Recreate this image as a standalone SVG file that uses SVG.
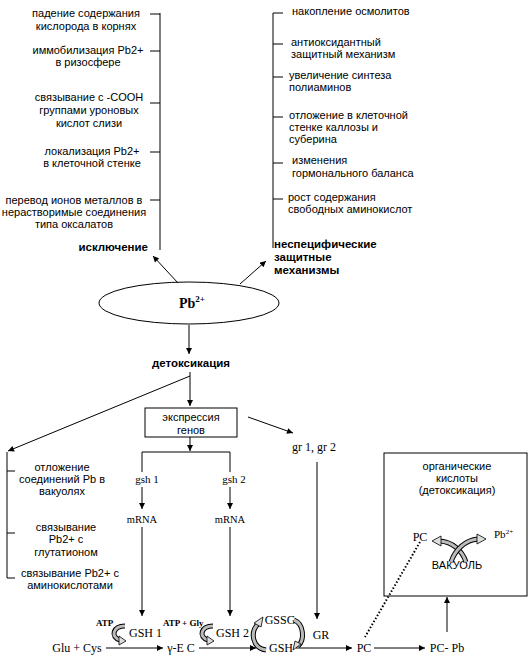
<svg xmlns="http://www.w3.org/2000/svg" width="529" height="661" viewBox="0 0 529 661">
<style>
.s{font-family:"Liberation Sans",Arial,sans-serif;font-size:11px;fill:#000}
.c{text-anchor:middle}
.b{font-weight:bold;font-size:11.5px}
.r{font-family:"Liberation Serif","Times New Roman",serif;fill:#000}
.ln{stroke:#000;stroke-width:1;fill:none}
.bo{stroke:#000;stroke-width:5;fill:none}
.bi{stroke:#bbb;stroke-width:3;fill:none}
.hd{fill:#ddd;stroke:#000;stroke-width:0.8}
</style>
<defs>
<marker id="ah" viewBox="0 0 10 10" refX="10" refY="5" markerWidth="7" markerHeight="6" markerUnits="userSpaceOnUse" orient="auto"><path d="M0,0 L10,5 L0,10 z" fill="#000"/></marker>
</defs>
<rect width="529" height="661" fill="#fff"/>

<g id="exclusion">
<text class="s c" x="86" y="17">падение содержания</text>
<text class="s c" x="86" y="30">кислорода в корнях</text>
<text class="s c" x="88" y="54">иммобилизация Pb2+</text>
<text class="s c" x="88" y="66">в ризосфере</text>
<text class="s c" x="89" y="101">связывание с -COOH</text>
<text class="s c" x="89" y="114">группами уроновых</text>
<text class="s c" x="89" y="127">кислот слизи</text>
<text class="s c" x="92" y="155">локализация Pb2+</text>
<text class="s c" x="92" y="167">в клеточной стенке</text>
<text class="s c" x="74" y="204">перевод ионов металлов в</text>
<text class="s c" x="74" y="216">нерастворимые соединения</text>
<text class="s c" x="74" y="228">типа оксалатов</text>
<text class="s b" x="148" y="251" text-anchor="end">исключение</text>
<path class="ln" d="M160,13 V250 M150,14 H160 M150,51 H160 M150,103 H160 M150,152 H160 M150,200 H160"/>
</g>

<g id="nonspecific">
<text class="s" x="292" y="15">накопление осмолитов</text>
<text class="s" x="291" y="46">антиоксидантный</text>
<text class="s" x="291" y="58">защитный механизм</text>
<text class="s" x="289" y="79">увеличение синтеза</text>
<text class="s" x="289" y="91">полиаминов</text>
<text class="s" x="289" y="119">отложение в клеточной</text>
<text class="s" x="289" y="131">стенке каллозы и</text>
<text class="s" x="289" y="143">суберина</text>
<text class="s" x="292" y="164">изменения</text>
<text class="s" x="292" y="177">гормонального баланса</text>
<text class="s" x="288" y="201">рост содержания</text>
<text class="s" x="288" y="213">свободных аминокислот</text>
<text class="s b" x="274" y="248">неспецифические</text>
<text class="s b" x="274" y="261">защитные</text>
<text class="s b" x="274" y="274">механизмы</text>
<path class="ln" d="M273,13 V248 M273,13 H283 M273,44 H283 M273,77 H283 M273,117 H283 M273,163 H283 M273,199 H283"/>
</g>

<g id="pb">
<ellipse cx="189" cy="303" rx="90" ry="21" fill="#fff" stroke="#000" stroke-width="1"/>
<text class="r" x="192" y="308" text-anchor="middle" font-weight="bold" font-size="14">Pb<tspan font-size="9" dy="-6">2+</tspan></text>
</g>

<g id="detox">
<text class="s b c" x="191" y="367">детоксикация</text>
</g>

<g id="expr">
<rect x="145" y="408" width="92" height="29" fill="#fff" stroke="#000"/>
<text class="s c" x="191" y="421">экспрессия</text>
<text class="s c" x="191" y="434">генов</text>
</g>

<g id="detox-left">
<text class="s c" x="62" y="471">отложение</text>
<text class="s c" x="62" y="483">соединений Pb в</text>
<text class="s c" x="62" y="495">вакуолях</text>
<text class="s c" x="66" y="531">связывание</text>
<text class="s c" x="66" y="543">Pb2+ с</text>
<text class="s c" x="66" y="556">глутатионом</text>
<text class="s c" x="70" y="577">связывание Pb2+ с</text>
<text class="s c" x="70" y="589">аминокислотами</text>
<path class="ln" d="M7,452 V578 M7,471 H15 M7,533 H15 M7,578 H15"/>
</g>

<g id="genes">
<text class="r c" x="147" y="483" font-size="11">gsh 1</text>
<text class="r c" x="234" y="483" font-size="11">gsh 2</text>
<text class="r c" x="142" y="523" font-size="10.5">mRNA</text>
<text class="r c" x="230" y="523" font-size="10.5">mRNA</text>
<text class="r c" x="314" y="451" font-size="12">gr 1, gr 2</text>
</g>

<g id="vacuole">
<rect x="384" y="453" width="143" height="143" fill="#fff" stroke="#000"/>
<text class="s c" x="457" y="470">органические</text>
<text class="s c" x="457" y="482">кислоты</text>
<text class="s c" x="457" y="494">(детоксикация)</text>
<text class="r c" x="420" y="541" font-size="12">PC</text>
<text class="r" x="494" y="538" font-size="11">Pb<tspan font-size="7" dy="-4">2+</tspan></text>
<text class="s c" x="457" y="569">ВАКУОЛЬ</text>
<path class="bo" d="M466,562 C462,550 452,542 440,541"/>
<path class="bi" d="M466,562 C462,550 452,542 440,541"/>
<polygon class="hd" points="441,536 432,541 441,546"/>
<path class="bo" d="M451,562 C455,550 465,540 478,539"/>
<path class="bi" d="M451,562 C455,550 465,540 478,539"/>
<polygon class="hd" points="477,534 486,539 477,544"/>
</g>

<g id="pathway">
<text class="r" x="96" y="626" font-size="9" font-weight="bold">ATP</text>
<text class="r" x="129" y="637" font-size="12">GSH 1</text>
<text class="r" x="163" y="626" font-size="9" font-weight="bold">ATP + Gly</text>
<text class="r" x="216" y="637" font-size="12">GSH 2</text>
<text class="r c" x="77" y="652" font-size="12">Glu + Cys</text>
<text class="r c" x="181" y="652" font-size="12">γ-E C</text>
<text class="r c" x="281" y="652" font-size="12">GSH</text>
<text class="r c" x="280" y="624" font-size="12">GSSG</text>
<text class="r c" x="321" y="639" font-size="12">GR</text>
<text class="r c" x="364" y="652" font-size="12">PC</text>
<text class="r c" x="447" y="652" font-size="12">PC- Pb</text>
<path class="bo" d="M125,626 C113,626 110,637 120,640"/>
<path class="bi" d="M125,626 C113,626 110,637 120,640"/>
<polygon class="hd" points="119,636 126,641 119,645"/>
<path class="bo" d="M213,626 C201,626 198,637 208,640"/>
<path class="bi" d="M213,626 C201,626 198,637 208,640"/>
<polygon class="hd" points="207,636 214,641 207,645"/>
<path class="bo" d="M266,650 C252,648 250,632 258,624"/>
<path class="bi" d="M266,650 C252,648 250,632 258,624"/>
<polygon class="hd" points="254,623 263,617 261,627"/>
<path class="bo" d="M294,620 C304,624 305,640 298,646"/>
<path class="bi" d="M294,620 C304,624 305,640 298,646"/>
<polygon class="hd" points="301,644 293,650 295,641"/>
</g>

<g id="connectors">
<line class="ln" x1="178" y1="283" x2="153" y2="256" marker-end="url(#ah)"/>
<line class="ln" x1="240" y1="284" x2="266" y2="261" marker-end="url(#ah)"/>
<line class="ln" x1="189" y1="325" x2="189" y2="354" marker-end="url(#ah)"/>
<line class="ln" x1="190" y1="372" x2="190" y2="406" marker-end="url(#ah)"/>
<line class="ln" x1="190" y1="376" x2="8" y2="451" marker-end="url(#ah)"/>
<line class="ln" x1="248" y1="417" x2="293" y2="433" marker-end="url(#ah)"/>
<line class="ln" x1="190" y1="437" x2="190" y2="451" marker-end="url(#ah)"/>
<path class="ln" d="M142,472 V452 H230 V472"/>
<line class="ln" x1="142" y1="487" x2="142" y2="509" marker-end="url(#ah)"/>
<line class="ln" x1="230" y1="487" x2="230" y2="509" marker-end="url(#ah)"/>
<line class="ln" x1="142" y1="527" x2="142" y2="616" marker-end="url(#ah)"/>
<line class="ln" x1="230" y1="527" x2="230" y2="616" marker-end="url(#ah)"/>
<line class="ln" x1="317" y1="462" x2="317" y2="619" marker-end="url(#ah)"/>
<line class="ln" x1="106" y1="648" x2="163" y2="648" marker-end="url(#ah)"/>
<line class="ln" x1="199" y1="648" x2="256" y2="648" marker-end="url(#ah)"/>
<line class="ln" x1="296" y1="648" x2="352" y2="648" marker-end="url(#ah)"/>
<line class="ln" x1="374" y1="648" x2="425" y2="648" marker-end="url(#ah)"/>
<line class="ln" x1="447" y1="632" x2="447" y2="597" marker-end="url(#ah)"/>
<line x1="420" y1="542" x2="365" y2="637" stroke="#000" stroke-width="2" stroke-dasharray="1.5,2"/>
</g>
</svg>
